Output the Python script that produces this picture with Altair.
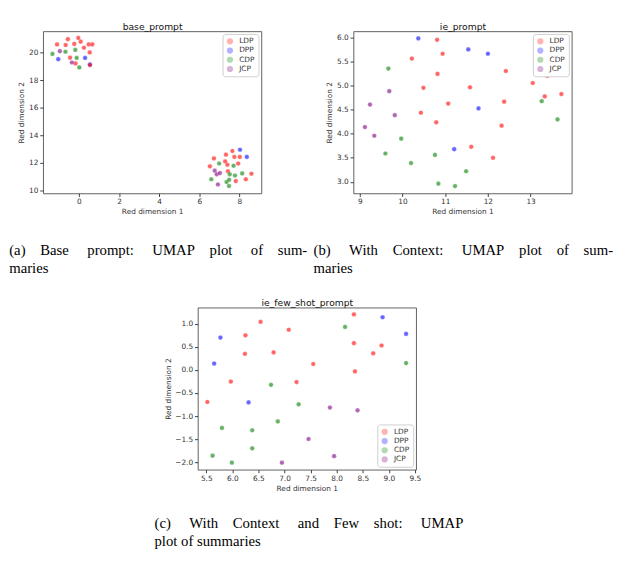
import altair as alt
import pandas as pd

PARTIES = ["LDP", "DPP", "CDP", "JCP"]
COLORS = ["#ff0000", "#0000ff", "#008000", "#800080"]

# ---------- (a) base_prompt ----------
a_party = (["LDP"] * 12 + ["DPP"] + ["LDP"] + ["DPP"] * 2 + ["CDP"] * 5 + ["JCP"] * 2
           + ["LDP"] * 13 + ["DPP"] * 2 + ["CDP"] * 9 + ["JCP"] * 4)
a_x = [-1.09, -0.55, -0.03, 0.09, -0.23, -0.66, 0.25, 0.49, 0.67, 0.54, -0.44, -0.17,
       0.55, 0.55,
       -1.03, 0.31,
       -1.32, -0.67, -0.18, -0.11, 0.02,
       -0.95, -0.35,
       6.53, 6.73, 7.33, 7.65, 7.75, 8.02, 7.29, 7.40, 7.94, 7.43, 7.82, 8.32, 8.60,
       8.03, 8.37,
       6.99, 7.71, 7.52, 7.78, 8.14, 6.60, 7.36, 7.49, 7.48,
       6.77, 6.87, 7.03, 6.93]
a_y = [20.60, 20.98, 21.07, 20.80, 20.64, 20.56, 20.36, 20.60, 20.60, 20.02, 19.64, 19.22,
       19.15, 19.10,
       19.53, 19.62,
       19.91, 20.07, 20.20, 19.62, 18.93,
       20.11, 19.29,
       11.76, 12.33, 12.60, 12.87, 12.44, 12.44, 12.11, 11.87, 11.96, 11.40, 10.69, 10.82, 11.22,
       12.96, 12.44,
       11.96, 11.80, 11.18, 11.09, 11.24, 10.82, 10.62, 10.78, 10.33,
       11.44, 11.18, 11.27, 10.44]

# ---------- (b) ie_prompt ----------
b_party = ["DPP"] * 5 + ["LDP"] * 18 + ["CDP"] * 10 + ["JCP"] * 5
b_x = [10.37, 11.54, 12.00, 11.78, 11.21,
       10.81, 10.94, 10.22, 10.82, 10.49, 11.58, 12.42, 13.05, 13.39, 13.33, 13.72, 12.38,
       11.07, 10.43, 10.79, 12.32, 11.61, 12.12,
       9.67, 13.26, 13.63, 9.97, 9.60, 10.20, 10.76, 11.49, 10.84, 11.23,
       9.69, 9.24, 9.82, 9.12, 9.34]
b_y = [5.99, 5.76, 5.67, 4.53, 3.68,
       5.96, 5.67, 5.57, 5.25, 4.96, 4.97, 5.31, 5.06, 5.21, 4.78, 4.83, 4.67,
       4.63, 4.44, 4.24, 4.17, 3.73, 3.50,
       5.36, 4.68, 4.30, 3.90, 3.59, 3.39, 3.56, 3.22, 2.96, 2.91,
       4.89, 4.61, 4.39, 4.14, 3.96]

# ---------- (c) ie_few_shot_prompt ----------
c_party = ["LDP"] * 14 + ["DPP"] * 5 + ["CDP"] * 10 + ["JCP"] * 5
c_x = [6.54, 6.25, 7.08, 6.24, 6.79, 8.33, 8.33, 8.86, 8.70, 7.55, 8.35, 5.97, 7.23, 5.52,
       5.77, 5.65, 6.31, 8.88, 9.33,
       8.16, 9.33, 6.74, 7.27, 6.87, 5.80, 6.38, 6.38, 5.62, 5.99,
       7.87, 8.40, 7.46, 7.95, 6.95]
c_y = [1.04, 0.75, 0.87, 0.35, 0.38, 1.20, 0.58, 0.53, 0.36, 0.13, -0.03, -0.25, -0.26, -0.69,
       0.70, 0.14, -0.70, 1.14, 0.78,
       0.93, 0.15, -0.32, -0.74, -1.11, -1.25, -1.30, -1.69, -1.85, -2.00,
       -0.81, -0.87, -1.49, -1.86, -2.00]

NB = "\u00a0"
def just(words, gaps):
    out = words[0]
    for w, g in zip(words[1:], gaps):
        out += NB * g + w
    return out

cap_a = [just(["(a)", "Base", "prompt:", "UMAP", "plot", "of", "sum-"], [4, 5, 5, 4, 5, 4]), "maries"]
cap_b = [just(["(b)", "With", "Context:", "UMAP", "plot", "of", "sum-"], [5, 4, 5, 4, 4, 4]), "maries"]
cap_c = [just(["(c)", "With", "Context", "and", "Few", "shot:", "UMAP"], [5, 4, 5, 4, 4, 5]), "plot of summaries"]

AX_FONT = "DejaVu Sans"


def panel(xs, ys, ps, name, xdom, ydom, xvals, yvals, xfmt, yfmt, lorient, caption, cap_dx, cap_off):
    df = pd.DataFrame({"x": xs, "y": ys, "party": ps})
    xscale = alt.Scale(domain=xdom, nice=False, zero=False)
    yscale = alt.Scale(domain=ydom, nice=False, zero=False)
    pts = alt.Chart(df).mark_circle(size=26, opacity=0.6, stroke="white", strokeWidth=0.4).encode(
        x=alt.X("x:Q", scale=xscale,
                axis=alt.Axis(values=xvals, format=xfmt, title="Red dimension 1", grid=False)),
        y=alt.Y("y:Q", scale=yscale,
                axis=alt.Axis(values=yvals, format=yfmt, title="Red dimension 2", grid=False)),
        color=alt.Color("party:N", scale=alt.Scale(domain=PARTIES, range=COLORS), title=None,
                        legend=alt.Legend(orient=lorient, offset=3, padding=4, strokeColor="#cccccc",
                                          fillColor="white", cornerRadius=3, symbolType="circle",
                                          symbolSize=45, symbolOpacity=0.3, symbolStrokeWidth=0,
                                          labelFontSize=8, labelFont=AX_FONT, labelColor="#333333",
                                          rowPadding=2, labelOffset=6)),
    )
    top = alt.Chart(df).mark_point(opacity=0).encode(
        x=alt.X("x:Q", scale=xscale,
                axis=alt.Axis(orient="top", title=name, labels=False, ticks=False, domain=False,
                              grid=False, titleFontSize=10, titlePadding=0, labelPadding=0,
                              minExtent=0, maxExtent=0, titleColor="#111111")),
    )
    return alt.layer(pts, top).resolve_axis(x="independent").properties(
        width=237, height=176,
        title=alt.Title(caption, orient="bottom", anchor="start", font="Liberation Serif",
                        fontSize=16, fontWeight="normal", color="#000000", lineHeight=20,
                        offset=cap_off, dx=cap_dx),
    )


pa = panel(a_x, a_y, a_party, "base_prompt", [-1.79, 9.09], [9.8, 21.56],
           [0, 2, 4, 6, 8], [10, 12, 14, 16, 18, 20], "d", "d", "top-right", cap_a, -10, 29)
pb = panel(b_x, b_y, b_party, "ie_prompt", [8.85, 13.96], [2.76, 6.14],
           [9, 10, 11, 12, 13], [3.0, 3.5, 4.0, 4.5, 5.0, 5.5, 6.0], "d", ".1f", "top-right",
           cap_b, -14, 29)
pc = panel(c_x, c_y, c_party, "ie_few_shot_prompt", [5.335, 9.52], [-2.15, 1.35],
           [5.5, 6.0, 6.5, 7.0, 7.5, 8.0, 8.5, 9.0, 9.5], [-2.0, -1.5, -1.0, -0.5, 0.0, 0.5, 1.0],
           ".1f", ".1f", "bottom-right", cap_c, -11, 26)

spacer = alt.Chart(pd.DataFrame({"s": [0]})).mark_point(opacity=0).encode(
    x=alt.value(0), y=alt.value(0)
).properties(width=1, height=1, view=alt.ViewConfig(strokeOpacity=0))

row1 = alt.hconcat(pa, pb, spacing=5).resolve_legend(color="independent")
row2 = alt.hconcat(spacer, pc, spacing=117).resolve_legend(color="independent")

chart = alt.vconcat(row1, row2, spacing=23).resolve_legend(
    color="independent"
).properties(padding={"left": 0, "top": -10, "right": 0, "bottom": 0}).configure_view(
    stroke="#555555", strokeWidth=1
).configure_axis(
    labelFont=AX_FONT, titleFont=AX_FONT, labelFontSize=8, titleFontSize=8,
    labelColor="#333333", titleColor="#333333", tickColor="#333333", tickSize=3.5,
    domain=False, labelPadding=2, titlePadding=3, titleFontWeight="normal",
).configure_title(font=AX_FONT)

chart.save("out.html", embed_options={"renderer": "svg", "actions": False})
